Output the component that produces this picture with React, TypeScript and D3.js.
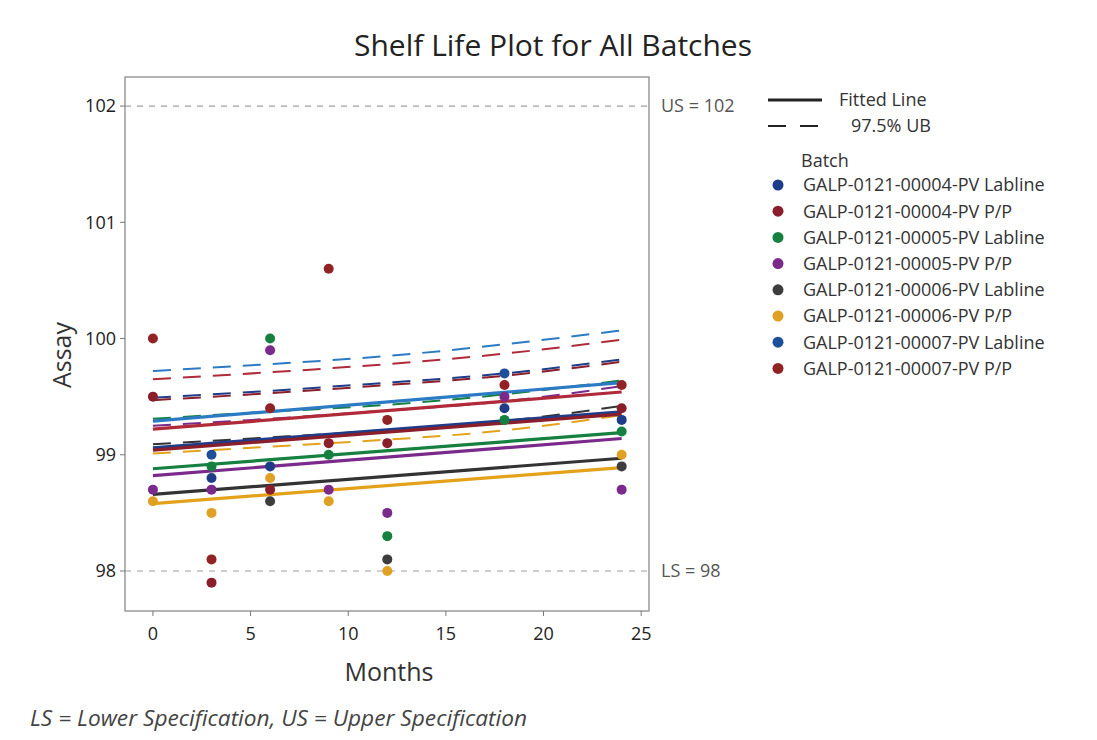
import * as d3 from "d3";

// batch names and colours
const batches = [
  "GALP-0121-00004-PV Labline",
  "GALP-0121-00004-PV P/P",
  "GALP-0121-00005-PV Labline",
  "GALP-0121-00005-PV P/P",
  "GALP-0121-00006-PV Labline",
  "GALP-0121-00006-PV P/P",
  "GALP-0121-00007-PV Labline",
  "GALP-0121-00007-PV P/P",
];
const dotColors = ["#1f3c88", "#8b1e2b", "#15803f", "#7a2a8a", "#3d3d3d", "#e0a024", "#1d4f9a", "#922325"];
const lineColors = ["#1f3c88", "#8b1e2b", "#15803f", "#7a2a8a", "#333333", "#e3a21a", "#2a7bc4", "#b02a3a"];

// observed assay values per batch: [month, assay]
const points: [number, number][][] = [
  [[3, 98.8], [6, 98.9], [18, 99.4], [24, 99.3]],
  [[0, 99.5], [3, 97.9], [6, 98.7], [9, 99.1], [12, 99.1], [24, 99.4]],
  [[3, 98.9], [6, 100.0], [9, 99.0], [12, 98.3], [18, 99.3], [24, 99.2]],
  [[0, 98.7], [3, 98.7], [6, 99.9], [9, 98.7], [12, 98.5], [18, 99.5], [24, 98.7]],
  [[6, 98.6], [12, 98.1], [24, 98.9]],
  [[0, 98.6], [3, 98.5], [6, 98.8], [9, 98.6], [12, 98.0], [24, 99.0]],
  [[3, 99.0], [18, 99.7]],
  [[0, 100.0], [3, 98.1], [6, 99.4], [9, 100.6], [12, 99.3], [18, 99.6], [24, 99.6]],
];

// fitted line at month 0 and month 24
const fitMonths = [0, 24];
const fits = [
  [99.06, 99.37],
  [99.04, 99.35],
  [98.88, 99.19],
  [98.82, 99.14],
  [98.66, 98.97],
  [98.58, 98.89],
  [99.29, 99.62],
  [99.22, 99.54],
];

// 97.5% upper bound read at these months
const ubMonths = [0, 6, 12, 18, 24];
const upperBounds = [
  [99.49, 99.55, 99.62, 99.7, 99.82],
  [99.47, 99.53, 99.6, 99.68, 99.8],
  [99.31, 99.37, 99.43, 99.52, 99.64],
  [99.25, 99.31, 99.38, 99.46, 99.59],
  [99.09, 99.15, 99.21, 99.29, 99.42],
  [99.01, 99.07, 99.13, 99.21, 99.34],
  [99.72, 99.78, 99.85, 99.95, 100.07],
  [99.65, 99.71, 99.78, 99.87, 99.99],
];

const xTicks = [0, 5, 10, 15, 20, 25];
const yTicks = [98, 99, 100, 101, 102];
const specs = [
  { label: "US = 102", value: 102 },
  { label: "LS = 98", value: 98 },
];

const font = "'Open Sans', 'Noto Sans', sans-serif";

export default function App() {
  const width = 1097;
  const height = 740;
  const left = 125, right = 649, top = 77, bottom = 611;
  const x = d3.scaleLinear([-1.43, 25.4], [left, right]);
  const y = d3.scaleLinear([97.656, 102.25], [bottom, top]);

  const fitLine = d3.line<number>((_, i) => x(fitMonths[i]), (d) => y(d));
  const ubLine = d3.line<number>((_, i) => x(ubMonths[i]), (d) => y(d)).curve(d3.curveNatural);

  return (
    <svg width={width} height={height} style={{ position: "absolute", left: 0, top: 0, background: "#fff" }} fontFamily={font}>
      <text x={553} y={56} textAnchor="middle" fontSize={30} fill="#222">Shelf Life Plot for All Batches</text>

      <rect x={left} y={top} width={right - left} height={bottom - top} fill="none" stroke="#8a8a8a" strokeWidth={1.3} />

      {specs.map((s) => (
        <g key={s.label}>
          <line x1={left} x2={right} y1={y(s.value)} y2={y(s.value)} stroke="#a0a0a0" strokeWidth={1.2} strokeDasharray="6,6" />
          <text x={right + 12} y={y(s.value)} dy="0.35em" fontSize={18} fill="#555">{s.label}</text>
        </g>
      ))}

      {yTicks.map((t) => (
        <g key={t}>
          <line x1={left - 5} x2={left} y1={y(t)} y2={y(t)} stroke="#777" />
          <text x={left - 9} y={y(t)} dy="0.35em" textAnchor="end" fontSize={18} fill="#222">{t}</text>
        </g>
      ))}
      {xTicks.map((t) => (
        <g key={t}>
          <line x1={x(t)} x2={x(t)} y1={bottom} y2={bottom + 5} stroke="#777" />
          <text x={x(t)} y={bottom + 29} textAnchor="middle" fontSize={18} fill="#222">{t}</text>
        </g>
      ))}

      <text x={389} y={681} textAnchor="middle" fontSize={25} fill="#333">Months</text>
      <text transform="translate(71,355) rotate(-90)" textAnchor="middle" fontSize={25} fill="#333">Assay</text>

      {upperBounds.map((ub, i) => (
        <path key={"ub" + i} d={ubLine(ub) ?? ""} fill="none" stroke={lineColors[i]} strokeWidth={2} strokeDasharray="18,12" />
      ))}
      {fits.map((f, i) => (
        <path key={"fit" + i} d={fitLine(f) ?? ""} fill="none" stroke={lineColors[i]} strokeWidth={3.2} />
      ))}
      {points.map((ps, i) =>
        ps.map(([m, v], j) => <circle key={i + "-" + j} cx={x(m)} cy={y(v)} r={5} fill={dotColors[i]} />)
      )}

      <g fontSize={18} fill="#333">
        <line x1={768} x2={822} y1={100} y2={100} stroke="#222" strokeWidth={3} />
        <text x={839} y={100} dy="0.35em">Fitted Line</text>
        <line x1={768} x2={822} y1={126} y2={126} stroke="#222" strokeWidth={2} strokeDasharray="18,14" />
        <text x={851} y={126} dy="0.35em">97.5% UB</text>
        <text x={801} y={161} dy="0.35em">Batch</text>
        {batches.map((b, i) => (
          <g key={b}>
            <circle cx={778} cy={185 + i * 26.2} r={5.5} fill={dotColors[i]} />
            <text x={803} y={185 + i * 26.2} dy="0.35em">{b}</text>
          </g>
        ))}
      </g>

      <text x={30} y={726} fontSize={21} fontStyle="italic" fill="#444" textLength={497} lengthAdjust="spacingAndGlyphs">LS = Lower Specification, US = Upper Specification</text>
    </svg>
  );
}
